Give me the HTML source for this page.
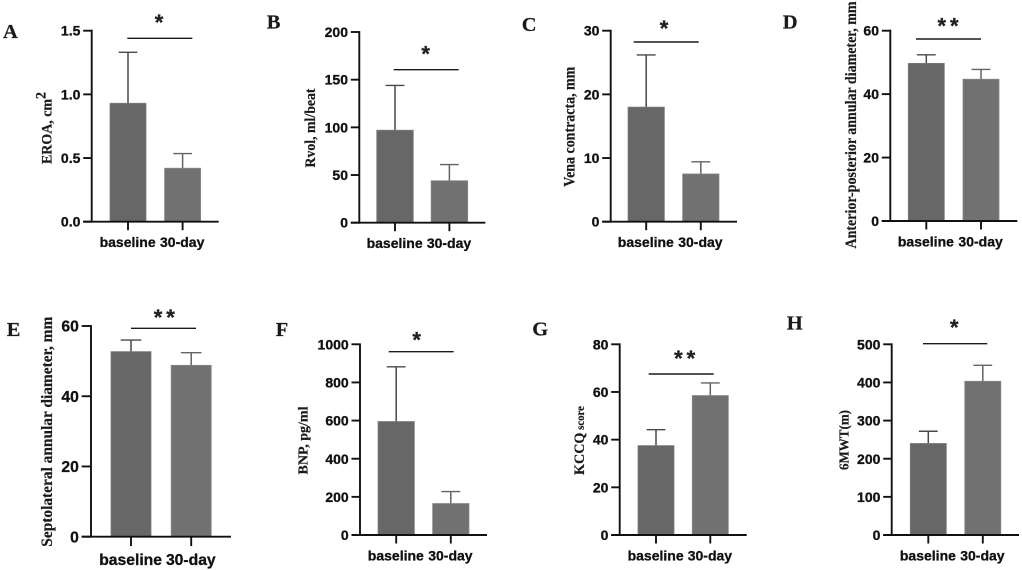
<!DOCTYPE html>
<html lang="en">
<head>
<meta charset="utf-8">
<title>Outcomes at baseline and 30 days</title>
<style>
  html, body { margin: 0; padding: 0; background: #fff; width: 1022px; height: 570px; overflow: hidden; }
  svg { display: block; filter: blur(0.35px); }
  .tick, .cat { font-family: "Liberation Sans", sans-serif; font-weight: 700; fill: #111; stroke: #111; stroke-width: 0.3px; }
  .ytitle, .letter { font-family: "Liberation Serif", serif; font-weight: 700; fill: #1a1a1a; stroke: #1a1a1a; stroke-width: 0.2px; }
  .star { font-family: "Liberation Sans", sans-serif; font-weight: 700; fill: #222; stroke: #222; stroke-width: 0.3px; }
</style>
</head>
<body>
<svg id="figure" xmlns="http://www.w3.org/2000/svg" width="1022" height="570" viewBox="0 0 1022 570"></svg>
<script>
// ---- chart data ----
const categories = ["baseline", "30-day"];
const panelLetters = ["A", "B", "C", "D", "E", "F", "G", "H"];
const titleMain = ["EROA, cm", "Rvol, ml/beat", "Vena contracta, mm", "Anterior-posterior annular diameter, mm", "Septolateral annular diameter, mm", "BNP, pg/ml", "KCCQ", "6MWT(m)"];
const titleSuffix = ["2", "", "", "", "", "", " score", ""];
const yTickLabels = [
  ["0.0", "0.5", "1.0", "1.5"],
  ["0", "50", "100", "150", "200"],
  ["0", "10", "20", "30"],
  ["0", "20", "40", "60"],
  ["0", "20", "40", "60"],
  ["0", "200", "400", "600", "800", "1000"],
  ["0", "20", "40", "60", "80"],
  ["0", "100", "200", "300", "400", "500"]
];
const baselineMeans = [0.93, 97, 18, 49.7, 52.7, 595, 37.5, 240];
const thirtyDayMeans = [0.42, 44, 7.5, 44.7, 48.8, 165, 58.5, 403];
const baselineErrorTops = [1.33, 144, 26.2, 52.4, 56, 882, 44.2, 272];
const thirtyDayErrorTops = [0.535, 61, 9.4, 47.8, 52.4, 228, 63.8, 445];
const significance = ["*", "*", "*", "**", "**", "*", "**", "*"];

// ---- panel frames (layout only) ----
const frames = [
  {ax: 91.7,  top: 30.7,  base: 221.7, end: 218.7,  c0: 128,   step: 54.6, bw: 36,   sl: 127.3, sr: 192.3, sy: 38.3,  stx: 159,   sty: 18,    tx: 46.7,  ty: 128,   tlen: 72,  tsize: 15,   lx: 3,     ly: 38,    fs: 14,   k: 1},
  {ax: 359.3, top: 32,    base: 222.7, end: 485.3,  c0: 395,   step: 54.4, bw: 36.5, sl: 393.7, sr: 458.7, sy: 69.7,  stx: 425.7, sty: 49.7,  tx: 310,   ty: 128,   tlen: 79,  tsize: 14.5, lx: 266.7, ly: 28.3,  fs: 14,   k: 1},
  {ax: 610.7, top: 30.7,  base: 221.7, end: 737,    c0: 646.2, step: 54.6, bw: 36.3, sl: 633.7, sr: 698.7, sy: 42,    stx: 664,   sty: 24,    tx: 569.3, ty: 126.7, tlen: 120, tsize: 15.5, lx: 521.7, ly: 31,    fs: 14,   k: 1},
  {ax: 890.3, top: 30.7,  base: 221,   end: 1017.3, c0: 926.3, step: 54.7, bw: 36,   sl: 916,   sr: 981,   sy: 39,    stx: 950,   sty: 21.3,  tx: 850.7, ty: 125,   tlen: 247, tsize: 15.5, lx: 782.7, ly: 28.3,  fs: 14,   k: 1},
  {ax: 91,    top: 326,   base: 536.7, end: 231,    c0: 131,   step: 60.2, bw: 40,   sl: 131,   sr: 196,   sy: 328.3, stx: 166.3, sty: 313,   tx: 46.7,  ty: 431.7, tlen: 230, tsize: 16,   lx: 6.7,   ly: 336,   fs: 15.7, k: 1.1},
  {ax: 360,   top: 344.3, base: 535,   end: 487,    c0: 396.2, step: 54.6, bw: 36.3, sl: 388.7, sr: 453.7, sy: 351.7, stx: 416.7, sty: 335.7, tx: 302.7, ty: 440.5, tlen: 68,  tsize: 14,   lx: 275.7, ly: 336,   fs: 14,   k: 1},
  {ax: 619.7, top: 344.3, base: 535,   end: 746.7,  c0: 656,   step: 54.3, bw: 36,   sl: 648.7, sr: 713.7, sy: 374,   stx: 686.7, sty: 354,   tx: 579,   ty: 440.5, tlen: 69,  tsize: 15,   lx: 532.3, ly: 335.7, fs: 14,   k: 1},
  {ax: 891.7, top: 344.3, base: 535,   end: 1019,   c0: 928.3, step: 54.5, bw: 36,   sl: 923,   sr: 987.3, sy: 343.7, stx: 954.3, sty: 323,   tx: 844,   ty: 440,   tlen: 60,  tsize: 13.5, lx: 786.7, ly: 329.3, fs: 14,   k: 1}
];

const SVG_NS = "http://www.w3.org/2000/svg";
const root = document.getElementById("figure");

function make(tag, parent) {
  const el = document.createElementNS(SVG_NS, tag);
  parent.appendChild(el);
  return el;
}
function setAll(el, props) {
  for (const key in props) el.setAttribute(key, props[key]);
  return el;
}

panelLetters.forEach(function (letter, i) {
  const f = frames[i];
  const ticks = yTickLabels[i];
  const yMin = parseFloat(ticks[0]);
  const yMax = parseFloat(ticks[ticks.length - 1]);
  const yScale = function (v) { return f.base - (v - yMin) / (yMax - yMin) * (f.base - f.top); };
  const xScale = function (c) { return f.c0 + c * f.step; };
  const means = [baselineMeans[i], thirtyDayMeans[i]];
  const errTops = [baselineErrorTops[i], thirtyDayErrorTops[i]];
  const barFills = ["#676767", "#717171"];
  const barEdges = ["#7c7c7c", "#868686"];
  const errColors = ["#484848", "#636363"];
  const capHalf = 9.4 * f.k;
  const tickLen = 8.5 * f.k;

  const g = make("g", root);
  
  

  const letterEl = make("text", g);
  
  
  setAll(letterEl, {class: "letter", x: f.lx, y: f.ly, "font-size": 20.5});
  letterEl.textContent = letter;

  // bars and error bars
  categories.forEach(function (cat, c) {
    const x = xScale(c);
    const errLine = make("line", g);
    
    
    setAll(errLine, {x1: x, x2: x, y1: yScale(means[c]), y2: yScale(errTops[c]), stroke: errColors[c], "stroke-width": 1.5});

    const errCap = make("line", g);
    
    
    setAll(errCap, {x1: x - capHalf, x2: x + capHalf, y1: yScale(errTops[c]), y2: yScale(errTops[c]), stroke: errColors[c], "stroke-width": 1.4});

    const bar = make("rect", g);
    
    
    setAll(bar, {x: x - f.bw / 2, y: yScale(means[c]), width: f.bw, height: f.base - yScale(means[c]), fill: barFills[c], stroke: barEdges[c], "stroke-width": 0.8});

    const catTick = make("line", g);
    
    
    setAll(catTick, {x1: x, x2: x, y1: f.base, y2: f.base + tickLen, stroke: "#111", "stroke-width": 1.9});

    const catLabel = make("text", g);
    
    
    setAll(catLabel, {class: "cat", x: x - 0.4, y: f.base + 25.5 * f.k, "text-anchor": "middle", "font-size": f.fs});
    catLabel.textContent = cat;
  });

  // axes
  const yAxis = make("line", g);
  
  
  setAll(yAxis, {x1: f.ax, x2: f.ax, y1: f.top - 0.9, y2: f.base + 0.9, stroke: "#111", "stroke-width": 1.9});

  const xAxis = make("line", g);
  
  
  setAll(xAxis, {x1: f.ax - tickLen, x2: f.end, y1: f.base, y2: f.base, stroke: "#111", "stroke-width": 1.9});

  ticks.forEach(function (label) {
    const y = yScale(parseFloat(label));
    const tick = make("line", g);
    
    
    setAll(tick, {x1: f.ax - tickLen, x2: f.ax, y1: y, y2: y, stroke: "#111", "stroke-width": 1.9});

    const tickText = make("text", g);
    
    
    setAll(tickText, {class: "tick", x: f.ax - tickLen - 2.8, y: y + f.fs * 0.36, "text-anchor": "end", "font-size": f.fs});
    tickText.textContent = label;
  });

  // y-axis title
  const title = make("text", g);
  
  
  setAll(title, {
    class: "ytitle",
    x: 0, y: 0,
    transform: "translate(" + (f.tx + f.tsize * 0.33) + " " + f.ty + ") rotate(-90)",
    "text-anchor": "middle",
    "font-size": f.tsize,
    textLength: f.tlen,
    lengthAdjust: "spacingAndGlyphs"
  });
  const mainSpan = make("tspan", title);
  mainSpan.textContent = titleMain[i];
  if (titleSuffix[i]) {
    const suffixSpan = make("tspan", title);
    const isSuper = titleSuffix[i] === "2";
    setAll(suffixSpan, isSuper ? {dy: -6, "font-size": 15} : {"font-size": 11.5});
    suffixSpan.textContent = titleSuffix[i];
  }

  // significance bracket
  const sigLine = make("line", g);
  
  
  setAll(sigLine, {x1: f.sl, x2: f.sr, y1: f.sy, y2: f.sy, stroke: "#1a1a1a", "stroke-width": 1.4});

  const star = make("text", g);
  
  
  setAll(star, {class: "star", x: f.stx, y: f.sty + 12, "text-anchor": "middle", "font-size": 22, "letter-spacing": significance[i].length > 1 ? 4 : 0});
  star.textContent = significance[i];
});
</script>
</body>
</html>
